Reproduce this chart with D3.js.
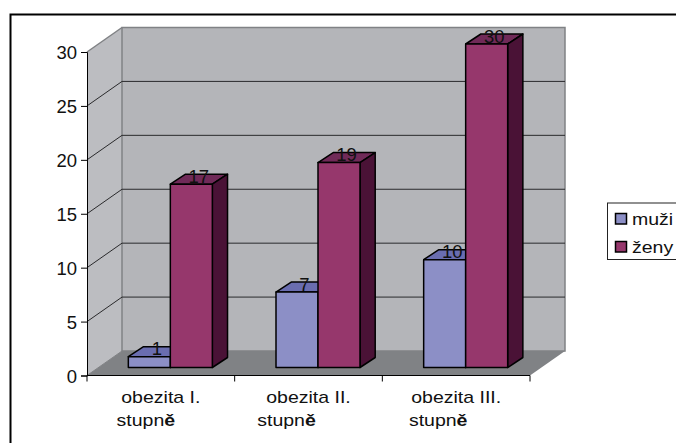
<!DOCTYPE html>
<html>
<head>
<meta charset="utf-8">
<script src="https://cdn.jsdelivr.net/npm/d3@7"></script>
<style>
html, body { margin: 0; padding: 0; background: #fff; overflow: hidden; }
text { font-family: "Liberation Sans", Arial, sans-serif; fill: #111; }
</style>
</head>
<body>
<div id="chart"></div>
<script>
const width = 676
const height = 443

// data
const categories = ["obezita I.", "obezita II.", "obezita III."]
const categoryLine2 = ["stupn", "stupn", "stupn"]
const seriesNames = ["muži", "ženy"]
const muzi = [1, 7, 10]
const zeny = [17, 19, 30]
const yTicks = [0, 5, 10, 15, 20, 25, 30]

const colors = {
    muži: { front: "#8c8fc6", top: "#6a6db0", side: "#46486f" },
    ženy: { front: "#96376c", top: "#702a58", side: "#4a1236" }
}

const svg = d3.select("#chart")
    .append("svg")
    .attr("width", width)
    .attr("height", height)
    .style("display", "block")

// outer frame, runs off the right and bottom of the picture
svg.append("path")
    .attr("d", "M10.5,443V14.5H676")
    .style("fill", "none")
    .style("stroke", "#000")
    .style("stroke-width", 2)

const x = d3.scaleBand().domain(categories).range([87, 530]).paddingInner(0).paddingOuter(0)
const y = d3.scaleLinear().domain([0, 30]).range([375.5, 52])

// 3d offsets: wall depth and bar position inside it
const depthX = 35, depthY = -24.5
const barOffX = 9.5, barOffY = -8
const barDepthX = 15.2, barDepthY = -10
const barWidth = 42

// the original text is stretched sideways
const textStretch = 1.22
const line2Shift = [-15, -22, -18]

const line = d3.line()
const left = x.range()[0], right = x.range()[1]

// walls and floor
svg.append("path")
    .attr("d", line([[left, y(30)], [left + depthX, y(30) + depthY], [left + depthX, y(0) + depthY], [left, y(0)]]) + "Z")
    .style("fill", "#bcbdc1").style("stroke", "none")
svg.append("rect")
    .attr("x", left + depthX).attr("y", y(30) + depthY)
    .attr("width", right - left).attr("height", y(0) - y(30))
    .style("fill", "#b4b5b9").style("stroke", "#808285").style("stroke-width", 1.5)
svg.append("path")
    .attr("d", line([[left, y(0)], [left + depthX, y(0) + depthY], [right + depthX, y(0) + depthY], [right, y(0)]]) + "Z")
    .style("fill", "#808285").style("stroke", "none")

// gridlines on the side and back wall
svg.append("g")
    .selectAll("path")
    .data(yTicks.filter(d => d > 0 && d < 30))
    .enter()
    .append("path")
    .attr("d", d => line([[left, y(d)], [left + depthX, y(d) + depthY], [right + depthX, y(d) + depthY]]))
    .style("fill", "none")
    .style("stroke", "#2a2a2c")
    .style("stroke-width", 1)
svg.append("path")
    .attr("d", line([[left, y(30)], [left + depthX, y(30) + depthY]]))
    .style("stroke", "#808285").style("stroke-width", 1.5)
svg.append("path")
    .attr("d", line([[left + depthX, y(0) + depthY], [left, y(0)]]))
    .style("stroke", "#808285").style("stroke-width", 1)

// axes
const yAxis = d3.axisLeft(y).tickValues(yTicks).tickSize(6).tickPadding(4)
const yG = svg.append("g").attr("transform", `translate(${left},0)`).call(yAxis)
yG.selectAll("text").style("font-size", "18.5px").attr("dy", "0.36em")
yG.selectAll("line, path").style("stroke", "#000")

const xTickPos = categories.map(d => x(d)).concat([right])
svg.append("path")
    .attr("d", line([[left, y(0)], [right, y(0)]]))
    .style("stroke", "#000").style("stroke-width", 1.2)
svg.append("g")
    .selectAll("line")
    .data(xTickPos)
    .enter()
    .append("line")
    .attr("x1", d => d).attr("x2", d => d)
    .attr("y1", y(0)).attr("y2", y(0) + 6)
    .style("stroke", "#000")

// bars
const bars = []
categories.forEach((c, i) => {
    bars.push({ cat: c, name: seriesNames[0], value: muzi[i], pos: 0 })
    bars.push({ cat: c, name: seriesNames[1], value: zeny[i], pos: 1 })
})

const barX = d => x(d.cat) + (x.bandwidth() - 2 * barWidth) / 2 + barOffX + d.pos * barWidth
const barTop = d => y(d.value) + barOffY
const barBase = () => y(0) + barOffY

const barG = svg.append("g")
    .selectAll("g")
    .data(bars)
    .enter()
    .append("g")
    .style("stroke", "#000")
    .style("stroke-width", 1.5)
    .style("stroke-linejoin", "round")

barG.append("path")
    .attr("d", d => {
        const x0 = barX(d), t = barTop(d)
        return line([[x0, t], [x0 + barDepthX, t + barDepthY], [x0 + barWidth + barDepthX, t + barDepthY], [x0 + barWidth, t]]) + "Z"
    })
    .style("fill", d => colors[d.name].top)
barG.append("path")
    .attr("d", d => {
        const x1 = barX(d) + barWidth, t = barTop(d), b = barBase()
        return line([[x1, t], [x1 + barDepthX, t + barDepthY], [x1 + barDepthX, b + barDepthY], [x1, b]]) + "Z"
    })
    .style("fill", d => colors[d.name].side)
barG.append("rect")
    .attr("x", barX)
    .attr("y", barTop)
    .attr("width", barWidth)
    .attr("height", d => barBase() - barTop(d))
    .style("fill", d => colors[d.name].front)

// value labels
svg.append("g")
    .selectAll("text")
    .data(bars)
    .enter()
    .append("text")
    .attr("x", d => barX(d) + barWidth / 2 + 7.5)
    .attr("y", d => barTop(d) - 1.5)
    .attr("text-anchor", "middle")
    .style("font-size", "18.5px")
    .text(d => d.value)

// category labels
const labelG = svg.append("g")
    .selectAll("g")
    .data(categories)
    .enter()
    .append("g")
labelG.append("text")
    .attr("transform", d => `translate(${x(d) + x.bandwidth() / 2},403) scale(${textStretch},1)`)
    .attr("text-anchor", "middle")
    .style("font-size", "16px")
    .text(d => d)
const line2 = labelG.append("text")
    .attr("transform", (d, i) => `translate(${x(d) + x.bandwidth() / 2 + line2Shift[i]},426) scale(${textStretch},1)`)
    .attr("text-anchor", "middle")
    .style("font-size", "16px")
line2.append("tspan").text((d, i) => categoryLine2[i])
line2.append("tspan").style("font-weight", "bold").text("ě")

// legend
const legend = svg.append("g")
legend.append("rect")
    .attr("x", 607.5).attr("y", 203)
    .attr("width", 80).attr("height", 56.5)
    .style("fill", "#fff")
    .style("stroke", "#222")
const legendY = d3.scalePoint().domain(seriesNames).range([219, 247])
legend.selectAll("rect.swatch")
    .data(seriesNames)
    .enter()
    .append("rect")
    .attr("class", "swatch")
    .attr("x", 615.5)
    .attr("y", d => legendY(d) - 5.5)
    .attr("width", 11)
    .attr("height", 10.5)
    .style("fill", d => colors[d].front)
    .style("stroke", "#000")
    .style("stroke-width", 1.5)
legend.selectAll("text")
    .data(seriesNames)
    .enter()
    .append("text")
    .attr("transform", d => `translate(632,${legendY(d) + 6}) scale(${textStretch},1)`)
    .style("font-size", "16px")
    .text(d => d)
</script>
</body>
</html>
